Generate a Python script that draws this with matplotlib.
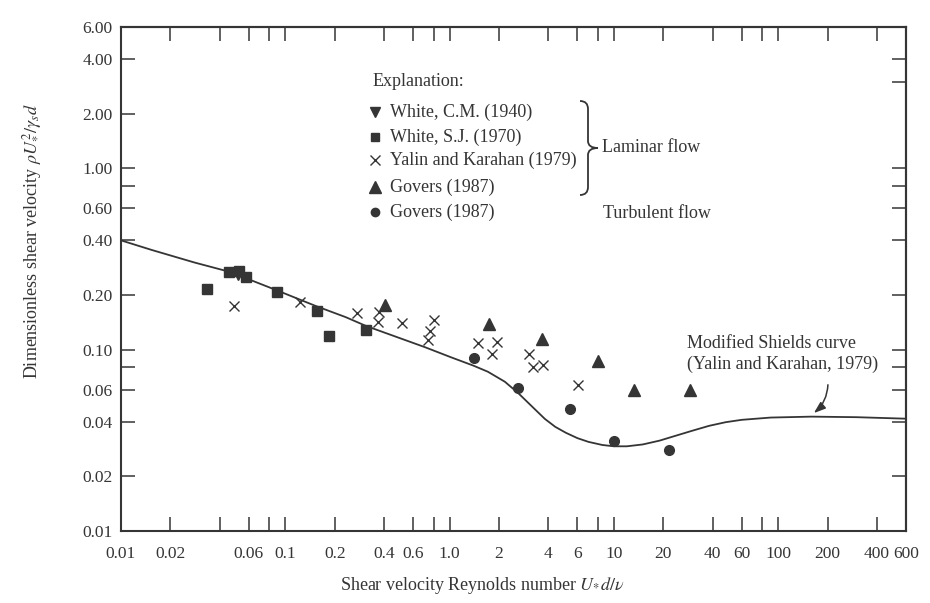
import matplotlib
matplotlib.use("Agg")
import matplotlib.pyplot as plt
from matplotlib.path import Path
from matplotlib.patches import PathPatch
from matplotlib.ticker import FixedLocator, FixedFormatter, NullLocator

# ---- data -------------------------------------------------------------
white_cm_x = [0.0518]
white_cm_y = [0.259]

white_sj_x = [0.0332, 0.0457, 0.0523, 0.0577, 0.089, 0.155, 0.1845, 0.311]
white_sj_y = [0.216, 0.268, 0.270, 0.252, 0.208, 0.164, 0.1186, 0.129]

yalin_x = [0.0486, 0.1225, 0.275, 0.370, 0.366, 0.514, 0.80, 0.762, 0.738,
           1.49, 1.95, 1.80, 3.03, 3.22, 3.68, 6.08]
yalin_y = [0.1745, 0.183, 0.160, 0.161, 0.1425, 0.141, 0.1455, 0.127, 0.113,
           0.109, 0.110, 0.094, 0.0951, 0.0805, 0.082, 0.0637]

govers_lam_x = [0.406, 1.74, 3.64, 7.97, 13.25, 29.0]
govers_lam_y = [0.177, 0.1387, 0.1139, 0.0863, 0.060, 0.0597]

govers_turb_x = [1.41, 2.62, 5.41, 10.04, 21.8]
govers_turb_y = [0.090, 0.0614, 0.0468, 0.0312, 0.0281]

# Modified Shields curve (Yalin and Karahan, 1979)
shields_x = [0.01, 0.0154, 0.028, 0.046, 0.089, 0.153, 0.233, 0.31, 0.71,
             1.02, 1.40, 1.71, 2.17, 2.62, 3.18, 3.8, 4.4, 5.1, 6.0, 7.0,
             8.5, 10, 12, 15, 19, 23, 30, 38, 48, 60, 90, 160, 300, 600]
shields_y = [0.400, 0.354, 0.302, 0.268, 0.212, 0.174, 0.151, 0.135, 0.103,
             0.0907, 0.0815, 0.0755, 0.0665, 0.0575, 0.0485, 0.0415, 0.0375,
             0.0348, 0.0325, 0.0310, 0.0298, 0.0293, 0.0293, 0.0300, 0.0315,
             0.0332, 0.0357, 0.0380, 0.0398, 0.0410, 0.0422, 0.0427, 0.0424,
             0.0416]

x_ticks = [0.01, 0.02, 0.04, 0.06, 0.08, 0.1, 0.2, 0.4, 0.6, 0.8, 1, 2, 4, 6,
           8, 10, 20, 40, 60, 80, 100, 200, 400, 600]
x_tick_labels = ["0.01", "0.02", "", "0.06", "", "0.1", "0.2", "0.4", "0.6",
                 "", "1.0", "2", "4", "6", "", "10", "20", "40", "60", "",
                 "100", "200", "400", "600"]
y_ticks = [0.01, 0.02, 0.04, 0.06, 0.08, 0.1, 0.2, 0.4, 0.6, 0.8, 1, 2, 4, 6]
y_tick_labels = ["0.01", "0.02", "0.04", "0.06", "", "0.10", "0.20", "0.40",
                 "0.60", "", "1.00", "2.00", "4.00", "6.00"]
y_ticks_right = [0.02, 0.04, 0.06, 0.08, 0.1, 0.2, 0.4, 0.6, 0.8, 1, 3, 4]

legend_labels = ["White, C.M. (1940)", "White, S.J. (1970)",
                 "Yalin and Karahan (1979)", "Govers (1987)", "Govers (1987)"]

# ---- style ------------------------------------------------------------
INK = "#353535"
plt.rcParams["font.family"] = ["Liberation Serif", "DejaVu Serif"]
plt.rcParams["mathtext.fontset"] = "stix"
plt.rcParams["text.color"] = INK

W, H = 930, 603
fig = plt.figure(figsize=(W / 100, H / 100), dpi=100)
fig.patch.set_facecolor("white")

L, R, T, B = 121, 906, 27, 531
ax = fig.add_axes([L / W, 1 - B / H, (R - L) / W, (B - T) / H])
ax.set_xscale("log")
ax.set_yscale("log")
ax.set_xlim(0.01, 600)
ax.set_ylim(0.01, 6)

for s in ax.spines.values():
    s.set_linewidth(1.5)
    s.set_color(INK)

ax.xaxis.set_major_locator(FixedLocator(x_ticks))
ax.xaxis.set_major_formatter(FixedFormatter(x_tick_labels))
ax.xaxis.set_minor_locator(NullLocator())
ax.yaxis.set_major_locator(FixedLocator(y_ticks))
ax.yaxis.set_major_formatter(FixedFormatter(y_tick_labels))
ax.yaxis.set_minor_locator(NullLocator())
ax.tick_params(axis="both", which="major", direction="in", length=10,
               width=1.1, color=INK, labelcolor=INK, labelsize=12.5)
ax.tick_params(axis="x", pad=11, top=False)
ax.tick_params(axis="y", pad=6, right=False)

# mirrored ticks on the top and right edges
top = ax.secondary_xaxis("top")
top.xaxis.set_major_locator(FixedLocator(x_ticks))
top.xaxis.set_minor_locator(NullLocator())
top.tick_params(direction="in", length=10, width=1.1, color=INK,
                labeltop=False)
top.spines["top"].set_linewidth(1.5)
top.spines["top"].set_color(INK)
right = ax.secondary_yaxis("right")
right.yaxis.set_major_locator(FixedLocator(y_ticks_right))
right.yaxis.set_minor_locator(NullLocator())
right.tick_params(direction="in", length=10, width=1.1, color=INK,
                  labelright=False)
right.spines["right"].set_linewidth(1.5)
right.spines["right"].set_color(INK)

# ---- curve and data points --------------------------------------------
ax.plot(shields_x, shields_y, color=INK, lw=1.3, zorder=2,
        solid_joinstyle="round")

mk = dict(color=INK, linestyle="none", zorder=3)
ax.plot(white_sj_x, white_sj_y, marker="s", ms=7.2, **mk)
ax.plot(white_cm_x, white_cm_y, marker="v", ms=7.5, **mk)
ax.plot(yalin_x, yalin_y, marker="x", ms=7, mew=1.0, **mk)
ax.plot(govers_lam_x, govers_lam_y, marker="^", ms=8.5, **mk)
ax.plot(govers_turb_x, govers_turb_y, marker="o", ms=7, **mk)

# ---- labels -----------------------------------------------------------
ax.set_xlabel(r"Shear velocity Reynolds number $U_{*}d/\nu$", fontsize=13,
              color=INK)
ax.xaxis.set_label_coords((482 - L) / (R - L), (B - 575) / (B - T))
ax.set_ylabel(r"Dimensionless shear velocity $\rho U_{*}^{2}/\gamma_s d$",
              fontsize=13, color=INK)
ax.yaxis.set_label_coords((44 - L) / (R - L), (B - 241) / (B - T))


def fx(px, py):
    return px / W, 1 - py / H


# explanation block
fig.text(*fx(373, 82), "Explanation:", fontsize=13, va="center", ha="left")
rows_y = [112, 137, 160, 187, 212]
markers = [("v", 7), ("s", 6), ("x", 6.5), ("^", 8), ("o", 6)]
for (m, s), yy, lab in zip(markers, rows_y, legend_labels):
    fig.lines.append(plt.Line2D([375 / W], [1 - yy / H], marker=m, ms=s,
                                color=INK, mew=1.0, linestyle="none",
                                transform=fig.transFigure))
    fig.text(*fx(390, yy), lab, fontsize=13, va="center", ha="left")

# brace grouping the laminar-flow entries
bx0, bxm, btip = 580, 588, 598
by0, bym, by1 = 101, 148, 195
pts = [(bx0, by0), (bxm, by0), (bxm, by0 + 8), (bxm, bym - 7),
       (bxm, bym), (btip, bym),
       (btip, bym), (bxm, bym), (bxm, bym + 7), (bxm, by1 - 8),
       (bxm, by1), (bx0, by1)]
codes = [Path.MOVETO, Path.CURVE3, Path.CURVE3, Path.LINETO,
         Path.CURVE3, Path.CURVE3,
         Path.MOVETO, Path.CURVE3, Path.CURVE3, Path.LINETO,
         Path.CURVE3, Path.CURVE3]
brace = Path([fx(*p) for p in pts], codes)
fig.patches.append(PathPatch(brace, transform=fig.transFigure, fill=False,
                             edgecolor=INK, lw=1.3))
fig.text(*fx(602, 148), "Laminar flow", fontsize=13, va="center", ha="left")
fig.text(*fx(603, 214), "Turbulent flow", fontsize=13, va="center", ha="left")

# curve annotation
fig.text(*fx(687, 354), "Modified Shields curve\n(Yalin and Karahan, 1979)",
         fontsize=13, va="center", ha="left", linespacing=1.25)
ax.annotate("", xy=(160, 0.0437), xycoords="data",
            xytext=fx(828, 382), textcoords="figure fraction",
            arrowprops=dict(arrowstyle="-|>,head_length=0.7,head_width=0.25",
                            color=INK, lw=1.1,
                            connectionstyle="arc3,rad=-0.25"))

fig.savefig("out.png", dpi=100, facecolor="white")
